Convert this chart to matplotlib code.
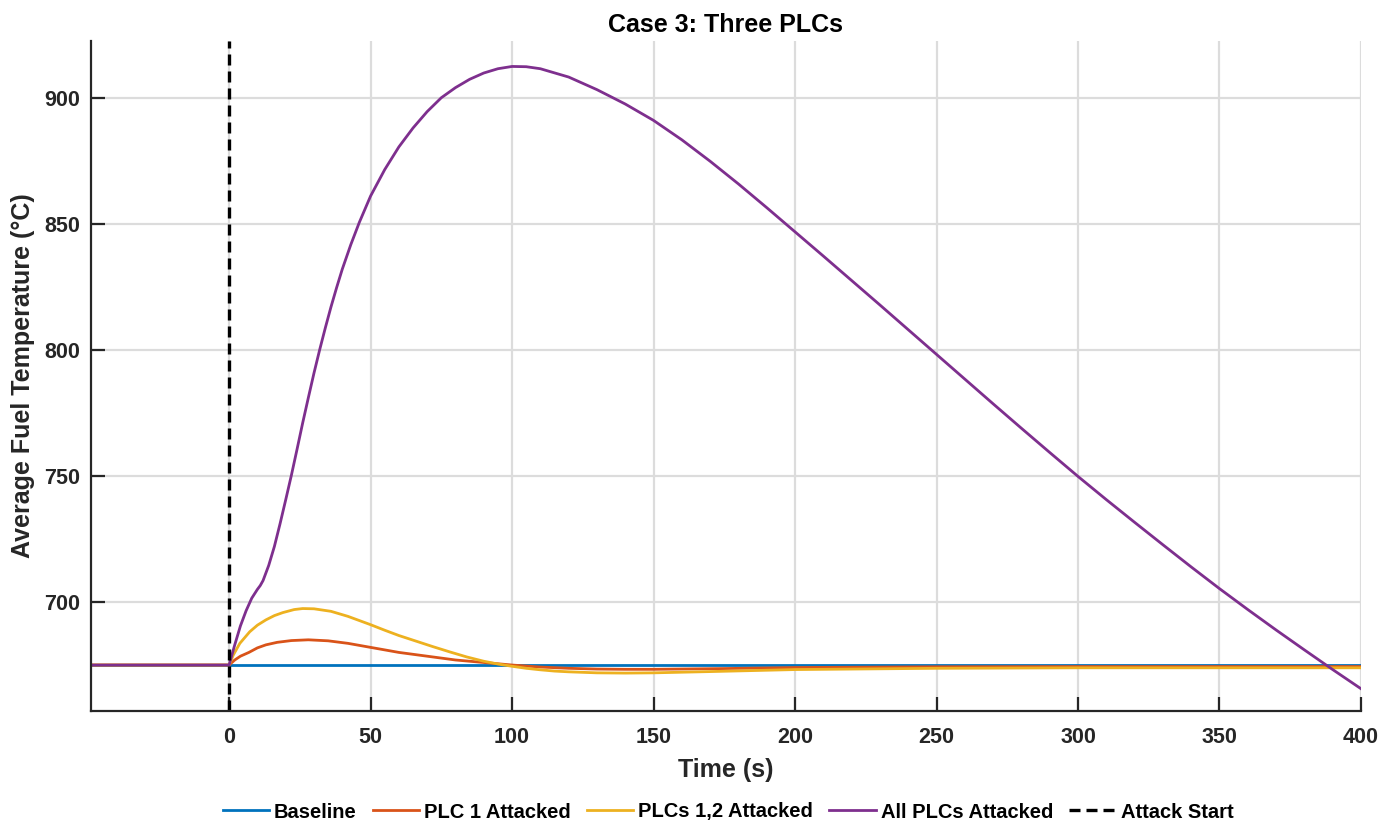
import matplotlib
matplotlib.use("Agg")
import matplotlib.pyplot as plt

# values
t_start = -48.8

base_t = [t_start, 0, 100, 200, 300, 400]
base_v = [675, 675, 675, 675, 675, 675]

plc1_t = [t_start, 0, 2, 4, 7, 10, 13, 17, 22, 28, 35, 42, 50, 60, 72, 80, 90, 100,
          110, 120, 130, 140, 150, 175, 200, 250, 300, 350, 400]
plc1_v = [675, 675, 677, 678.5, 680, 681.8, 683, 684, 684.7, 685, 684.6, 683.6, 682,
          680, 678.2, 677, 676, 675, 674.2, 673.7, 673.4, 673.3, 673.3, 673.6, 674,
          674.3, 674.4, 674.4, 674.4]

plc12_t = [t_start, 0, 1.5, 3.8, 7.3, 10, 13, 16, 19, 23, 26, 30, 36, 42, 50, 55, 60,
           66, 72, 78, 84, 90, 95, 100, 105, 110, 115, 120, 130, 140, 150, 170, 200,
           250, 300, 350, 400]
plc12_v = [675, 675, 679, 683.6, 688.2, 690.8, 692.9, 694.6, 695.8, 697, 697.4, 697.3,
           696.3, 694.3, 691, 688.8, 686.7, 684.5, 682.3, 680.2, 678.2, 676.5, 675.4,
           674.5, 673.7, 673.1, 672.6, 672.3, 671.9, 671.8, 671.9, 672.4, 673.2, 673.7,
           673.9, 673.9, 673.9]

all_t = [t_start, 0, 2, 4, 6, 8, 10, 11, 12, 14, 16, 18, 20, 22, 24, 26, 28, 30, 32,
         34, 36, 38, 40, 43, 46, 50, 55, 60, 65, 70, 75, 80, 85, 90, 95, 100, 105, 110,
         120, 130, 140, 150, 160, 170, 180, 190, 200, 210, 220, 230, 240, 250, 260,
         270, 280, 290, 300, 310, 320, 330, 340, 350, 360, 370, 380, 390, 400]
all_v = [675, 675, 683, 690.5, 696.5, 701.5, 705, 706.5, 708.5, 714.5, 722, 731,
         740.5, 750.2, 760.5, 771, 781, 790.8, 800, 808.7, 817, 824.7, 832, 841.7,
         850.5, 861, 871.5, 880.5, 888, 894.5, 900, 904, 907.3, 909.8, 911.5, 912.4,
         912.3, 911.5, 908.2, 903.2, 897.5, 891, 883.3, 874.8, 865.8, 856.4, 846.8,
         837.2, 827.5, 817.8, 808, 798.2, 788.4, 778.6, 768.9, 759.3, 749.8, 740.6,
         731.6, 722.7, 713.9, 705.3, 697, 688.9, 681, 673.2, 665.6]

labels = ["Baseline", "PLC 1 Attacked", "PLCs 1,2 Attacked", "All PLCs Attacked",
          "Attack Start"]
colors = ["#0072BD", "#D95319", "#EDB120", "#7E2F8E"]

x_ticks = [0, 50, 100, 150, 200, 250, 300, 350, 400]
y_ticks = [700, 750, 800, 850, 900]

plt.rcParams['font.family'] = ['Liberation Sans', 'DejaVu Sans']
plt.rcParams['font.weight'] = 'bold'
dark = "#262626"

fig = plt.figure(figsize=(13.81, 8.23), dpi=100)
ax = fig.add_axes([0.0659, 0.1365, 0.9196, 0.814])

ax.plot(base_t, base_v, color=colors[0], lw=2.0, label=labels[0])
ax.plot(plc1_t, plc1_v, color=colors[1], lw=2.0, label=labels[1])
ax.plot(plc12_t, plc12_v, color=colors[2], lw=2.0, label=labels[2])
ax.plot(all_t, all_v, color=colors[3], lw=2.0, label=labels[3])
ax.axvline(0, color="black", lw=2.4, dashes=(3.3, 1.8), label=labels[4])

ax.set_xlim(t_start, 400)
ax.set_ylim(656.9, 922.6)
ax.set_xticks(x_ticks)
ax.set_yticks(y_ticks)

ax.grid(True, color="#dcdcdc", lw=1.6)
ax.set_axisbelow(True)

for s in ["top", "right"]:
    ax.spines[s].set_visible(False)
for s in ["left", "bottom"]:
    ax.spines[s].set_color(dark)
    ax.spines[s].set_linewidth(1.6)

ax.tick_params(axis="both", direction="in", length=10, width=1.6, color=dark,
               labelcolor=dark, labelsize=15.5)
ax.tick_params(axis="x", pad=12)
ax.tick_params(axis="y", pad=8)
for lab in ax.get_xticklabels() + ax.get_yticklabels():
    lab.set_fontweight("bold")

ax.set_title("Case 3: Three PLCs", fontsize=18, fontweight="bold", color="black", pad=6)
ax.set_xlabel("Time (s)", fontsize=18, fontweight="bold", color=dark)
ax.set_ylabel("Average Fuel Temperature (°C)", fontsize=18, fontweight="bold", color=dark)
ax.xaxis.set_label_coords(0.5, -0.0706)
ax.yaxis.set_label_coords(-0.044, 0.5)

fig.legend(loc="center", bbox_to_anchor=(728 / 1381, 1 - 812 / 823), ncol=5,
           frameon=False, prop={"size": 14.5, "weight": "bold"},
           handlelength=2.3, handletextpad=0.25, columnspacing=0.8)

fig.savefig("out.png", dpi=100)
